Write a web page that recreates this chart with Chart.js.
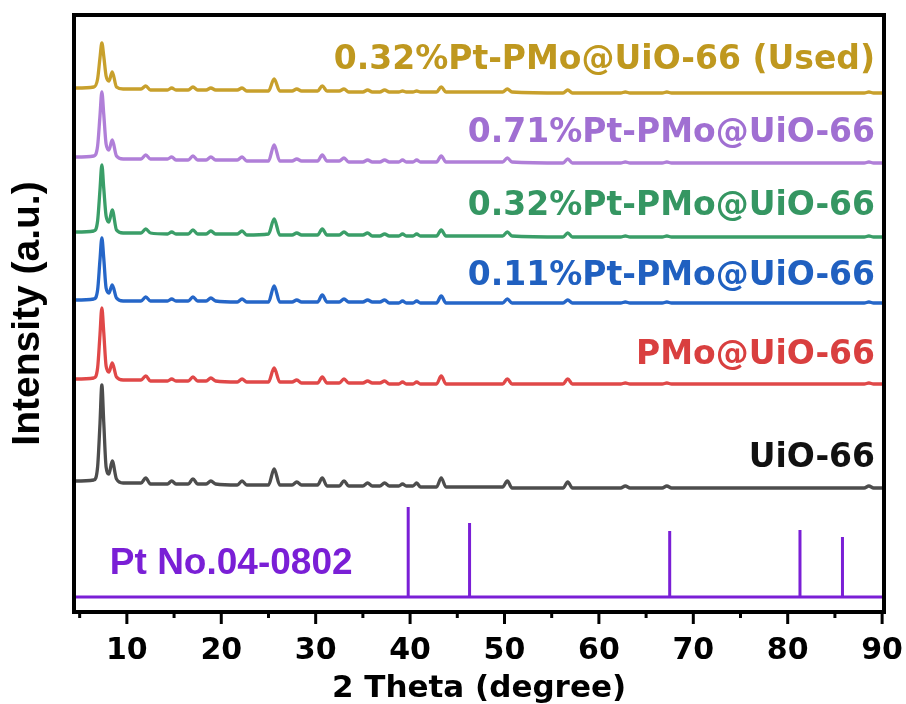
<!DOCTYPE html>
<html lang="en">
<head>
<meta charset="UTF-8">
<title>XRD patterns</title>
<script src="https://cdn.jsdelivr.net/npm/chart.js@4.4.1/dist/chart.umd.min.js"></script>
<style>
  html, body { margin: 0; padding: 0; background: #fff; }
  canvas { display: block; }
</style>
</head>
<body>
<canvas id="xrdChart" width="906" height="704"></canvas>
<script>
// 2 theta positions (degree) shared by the measured patterns
const twoTheta = [4.5, 6.5, 6.9, 7.15, 7.35, 7.55, 7.8, 8.1, 8.45, 8.9, 9.6,
    11.5, 12.0, 12.5, 14.3, 14.75, 15.2, 16.5, 17.0, 17.5, 18.4, 18.9, 19.4,
    21.7, 22.2, 22.7, 25.0, 25.6, 26.2, 27.5, 28.0, 28.5, 30.2, 30.7, 31.2,
    32.5, 33.0, 33.5, 35.0, 35.5, 36.0, 36.8, 37.3, 37.8, 38.8, 39.2, 39.6,
    40.3, 40.7, 41.1, 42.8, 43.3, 43.8, 49.8, 50.3, 50.8, 56.2, 56.7, 57.2,
    62.3, 62.8, 63.3, 66.7, 67.2, 67.7, 75.0, 88.1, 88.6, 89.1, 90.2];

// intensities (a.u., already stacked)
const uio66 = [131, 132, 145, 188, 227, 190, 145, 138, 151, 133, 129,
    129, 134, 128, 128, 131, 128, 128, 133, 128, 128, 131, 128,
    127, 131, 127, 127, 143, 127, 127, 130, 127, 127, 134, 126,
    126, 131, 126, 126, 129, 126, 126, 129, 126, 126, 128, 126,
    126, 129, 125, 125, 134, 125, 125, 131, 124, 124, 130, 124,
    124, 126, 124, 124, 126, 124, 124, 124, 126, 124, 124];
const pmoUio66 = [233, 234, 244, 277, 304, 280, 246, 240, 249, 235, 232,
    232, 236, 231, 231, 233, 231, 231, 235, 231, 231, 234, 231,
    230, 233, 230, 230, 244, 230, 230, 232, 229, 229, 235, 229,
    229, 233, 229, 229, 231, 229, 229, 231, 228, 228, 230, 228,
    228, 230, 228, 228, 236, 228, 228, 233, 228, 228, 233, 228,
    228, 229, 228, 228, 229, 228, 228, 228, 229, 228, 228];
const pt011 = [312, 313, 322, 352, 374, 354, 324, 319, 327, 314, 311,
    311, 315, 311, 311, 313, 311, 311, 315, 311, 311, 314, 311,
    310, 313, 310, 310, 326, 310, 310, 312, 310, 310, 317, 310,
    310, 313, 310, 310, 312, 310, 310, 312, 309, 309, 311, 309,
    309, 311, 309, 309, 316, 309, 309, 313, 309, 309, 312, 309,
    309, 310, 309, 309, 310, 309, 309, 309, 310, 309, 309];
const pt032 = [380, 381, 391, 422, 447, 424, 396, 390, 402, 382, 379,
    379, 383, 379, 378, 380, 378, 378, 382, 378, 378, 381, 378,
    378, 381, 377, 378, 393, 377, 377, 379, 377, 377, 383, 377,
    377, 380, 377, 377, 379, 376, 376, 378, 376, 376, 378, 376,
    376, 378, 376, 376, 382, 376, 376, 380, 376, 375, 379, 375,
    375, 376, 375, 375, 376, 375, 375, 375, 376, 375, 375];
const pt071 = [455, 456, 466, 496, 520, 498, 468, 462, 472, 456, 453,
    453, 457, 453, 453, 455, 452, 452, 456, 452, 452, 455, 452,
    452, 455, 451, 451, 467, 451, 451, 453, 451, 451, 457, 451,
    451, 454, 450, 450, 452, 450, 450, 452, 450, 450, 452, 450,
    450, 452, 450, 450, 456, 450, 450, 454, 450, 449, 453, 449,
    449, 450, 449, 449, 450, 449, 449, 449, 450, 449, 449];
const pt032Used = [524, 525, 533, 554, 569, 556, 536, 531, 540, 525, 523,
    523, 526, 522, 522, 524, 522, 522, 525, 522, 522, 524, 522,
    522, 524, 521, 521, 533, 521, 521, 523, 521, 521, 526, 521,
    521, 523, 520, 520, 522, 520, 520, 522, 520, 520, 521, 520,
    520, 521, 520, 520, 525, 520, 520, 523, 520, 519, 522, 519,
    519, 520, 519, 519, 520, 519, 519, 519, 520, 519, 519];

// Pt reference card No.04-0802
const ptTheta = [39.8, 46.3, 67.5, 81.3, 85.8];
const ptHeight = [90, 74, 66, 67, 60];
const ptBaseline = 15;

const xTicks = [5, 10, 15, 20, 25, 30, 35, 40, 45, 50, 55, 60, 65, 70, 75, 80, 85, 90];
const seriesNames = ['UiO-66', 'PMo@UiO-66', '0.11%Pt-PMo@UiO-66',
    '0.32%Pt-PMo@UiO-66', '0.71%Pt-PMo@UiO-66', '0.32%Pt-PMo@UiO-66 (Used)'];
const refName = 'Pt No.04-0802';

// colours and label placement (not data)
const seriesColors = ['#4d4d4d', '#e04848', '#2566c8', '#3a9e68', '#b07fd8', '#c8a02c'];
const labelColors = ['#111111', '#d93f3f', '#2060c0', '#359662', '#a06fd2', '#bf981f'];
const labelLevels = [154, 257, 336, 406, 479, 552];
const refColor = '#7a1fd6';

const seriesValues = [uio66, pmoUio66, pt011, pt032, pt071, pt032Used];

function toPoints(values) {
    return twoTheta.map((t, i) => ({ x: t, y: values[i] }));
}

// stick pattern for the reference card
const refPoints = [{ x: 4.4, y: ptBaseline }];
ptTheta.forEach((t, i) => {
    refPoints.push({ x: t, y: ptBaseline });
    refPoints.push({ x: t, y: ptBaseline + ptHeight[i] });
    refPoints.push({ x: t, y: ptBaseline });
});
refPoints.push({ x: 90.2, y: ptBaseline });

const datasets = seriesValues.map((vals, i) => ({
    label: seriesNames[i],
    data: toPoints(vals),
    borderColor: seriesColors[i],
    borderWidth: 3.3,
    pointRadius: 0,
    cubicInterpolationMode: 'monotone'
}));
datasets.unshift({
    label: refName,
    data: refPoints,
    borderColor: refColor,
    borderWidth: 3,
    pointRadius: 0,
    tension: 0
});

// frame + tick marks
const framePlugin = {
    id: 'frame',
    afterDraw(chart) {
        const { ctx, chartArea, scales } = chart;
        ctx.save();
        ctx.strokeStyle = '#000';
        ctx.lineWidth = 3;
        xTicks.forEach(v => {
            const px = scales.x.getPixelForValue(v);
            const len = v % 10 === 0 ? 12 : 6;
            ctx.beginPath();
            ctx.moveTo(px, chartArea.bottom);
            ctx.lineTo(px, chartArea.bottom + len);
            ctx.stroke();
        });
        ctx.lineWidth = 4;
        ctx.strokeRect(chartArea.left, chartArea.top,
            chartArea.right - chartArea.left, chartArea.bottom - chartArea.top);
        ctx.restore();
    }
};

// series names written next to the curves
const labelPlugin = {
    id: 'curveLabels',
    afterDatasetsDraw(chart) {
        const { ctx, scales } = chart;
        ctx.save();
        ctx.textBaseline = 'middle';
        ctx.textAlign = 'right';
        ctx.font = 'bold 33px "DejaVu Sans"';
        seriesNames.forEach((name, i) => {
            ctx.fillStyle = labelColors[i];
            ctx.fillText(name, scales.x.getPixelForValue(89.25), scales.y.getPixelForValue(labelLevels[i]));
        });
        ctx.textAlign = 'left';
        ctx.font = 'bold 37px "Liberation Sans"';
        ctx.fillStyle = refColor;
        ctx.fillText(refName, scales.x.getPixelForValue(8.2), scales.y.getPixelForValue(48));
        ctx.restore();
    }
};

const ctx = document.getElementById('xrdChart').getContext('2d');
new Chart(ctx, {
    type: 'line',
    data: { datasets: datasets },
    options: {
        responsive: false,
        animation: false,
        layout: { padding: { top: 15, right: 22, left: 0, bottom: 0 } },
        plugins: {
            legend: { display: false },
            tooltip: { enabled: false }
        },
        scales: {
            x: {
                type: 'linear',
                min: 4.4,
                max: 90.2,
                afterBuildTicks: scale => { scale.ticks = xTicks.map(v => ({ value: v })); },
                afterFit: scale => {
                    scale.height = 92;
                    scale.paddingLeft = 0; // keep chart area where the frame is in the picture
                    scale.paddingRight = 0;
                },
                grid: { display: false, drawTicks: false },
                border: { display: false },
                ticks: {
                    autoSkip: false,
                    maxRotation: 0,
                    padding: 21,
                    color: '#000',
                    font: { family: 'DejaVu Sans', weight: 'bold', size: 30 },
                    callback: v => (v % 10 === 0 ? String(v) : '')
                },
                title: {
                    display: true,
                    text: '2 Theta (degree)',
                    color: '#000',
                    padding: { top: 0, bottom: 0 },
                    font: { family: 'DejaVu Sans', weight: 'bold', size: 31, lineHeight: 1.0 }
                }
            },
            y: {
                type: 'linear',
                min: 0,
                max: 597,
                afterFit: scale => { scale.width = 74; },
                grid: { display: false, drawTicks: false },
                border: { display: false },
                ticks: { display: false },
                title: {
                    display: true,
                    text: 'Intensity (a.u.)',
                    color: '#000',
                    align: 'center',
                    padding: { top: 5, bottom: 0 },
                    font: { family: 'Liberation Sans', weight: 'bold', size: 39 }
                }
            }
        }
    },
    plugins: [framePlugin, labelPlugin]
});
</script>
</body>
</html>
